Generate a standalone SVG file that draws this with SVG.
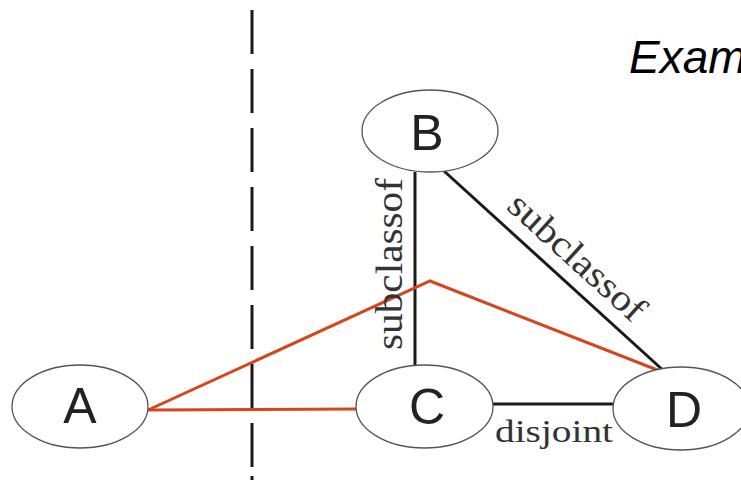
<svg xmlns="http://www.w3.org/2000/svg" width="741" height="483" viewBox="0 0 741 483">
<style>
.node ellipse{fill:#fff;stroke:#555;stroke-width:1.3}
.lbl{font-family:"Liberation Sans",Arial,sans-serif;font-size:50px;fill:#222;text-anchor:middle}
.edge{stroke:#1a1a1a;stroke-width:3;fill:none}
.red{stroke:#d5461c;stroke-width:3;fill:none}
.el{font-family:"Liberation Serif","Times New Roman",serif;fill:#333;text-anchor:middle}
</style>
<rect width="741" height="483" fill="#fff"/>
<text x="629" y="73" font-family="Liberation Sans,Arial,sans-serif" font-style="italic" font-size="46" fill="#000">Exam</text>
<line x1="252" y1="10" x2="252" y2="467" stroke="#1a1a1a" stroke-width="3" stroke-dasharray="44 15"/>
<line x1="252" y1="476" x2="252" y2="480" stroke="#1a1a1a" stroke-width="3"/>
<g id="connectors">
<line class="edge" x1="415" y1="172" x2="415" y2="366"/>
<line class="edge" x1="444" y1="171" x2="665" y2="372"/>
<line class="edge" x1="493" y1="404" x2="614" y2="404" stroke-width="3.5"/>
<polyline class="red" points="148,410 430,281 665,373"/>
<line class="red" x1="148" y1="410" x2="357" y2="409"/>
<text class="el" font-size="37" transform="translate(402,264) rotate(-90)" textLength="172" lengthAdjust="spacingAndGlyphs">subclassof</text>
<text class="el" font-size="37" transform="translate(569,266) rotate(42.2)" textLength="172" lengthAdjust="spacingAndGlyphs">subclassof</text>
<text class="el" font-size="32" x="554" y="442" textLength="118" lengthAdjust="spacingAndGlyphs">disjoint</text>
</g>
<g id="node-A" class="node"><ellipse cx="80" cy="406.5" rx="68" ry="41.5"/><text class="lbl" x="80" y="423">A</text></g>
<g id="node-B" class="node"><ellipse cx="430" cy="131" rx="68" ry="41"/><text class="lbl" x="427" y="150">B</text></g>
<g id="node-C" class="node"><ellipse cx="424.5" cy="406.5" rx="68.5" ry="41.5"/><text class="lbl" x="427" y="424">C</text></g>
<g id="node-D" class="node"><ellipse cx="681" cy="408.5" rx="68" ry="41.5"/><text class="lbl" x="684" y="427">D</text></g>
</svg>
